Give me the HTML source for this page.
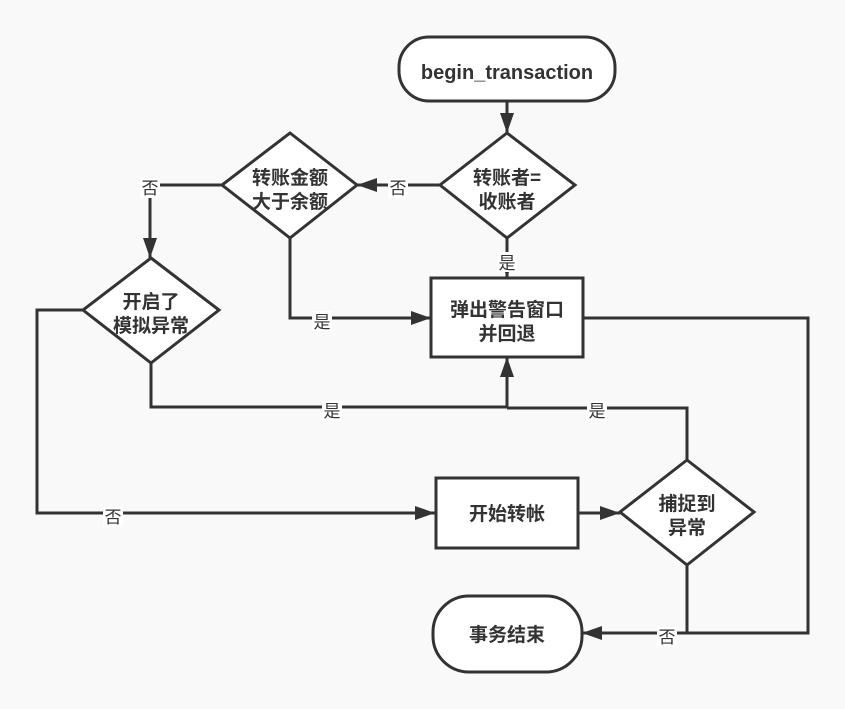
<!DOCTYPE html>
<html><head><meta charset="utf-8"><style>
html,body{margin:0;padding:0;background:#f9f9f9;}
svg{display:block}
text{font-family:"Liberation Sans","Noto Sans CJK SC",sans-serif;font-size:19px;font-weight:bold;fill:#333;text-anchor:middle;}
.l{font-weight:normal;font-size:17px;}
</style></head><body>
<svg width="845" height="709" viewBox="0 0 845 709" xmlns="http://www.w3.org/2000/svg">
<defs>
<marker id="b" markerWidth="22" markerHeight="22" refX="20" refY="11" orient="auto" markerUnits="userSpaceOnUse" viewBox="0 0 22 22"><path d="M0,4 L20,11 L0,18z" fill="#333"/></marker></defs>
<g fill="none" stroke="#333" stroke-width="3">
<path d="M507,101 V133" marker-end="url(#b)"/>
<path d="M440,185 H357" marker-end="url(#b)"/>
<path d="M507,238 V278" marker-end="url(#b)"/>
<path d="M222,185 H150 V258" marker-end="url(#b)"/>
<path d="M290,238 V318 H431" marker-end="url(#b)"/>
<path d="M83,310 H37 V513 H435" marker-end="url(#b)"/>
<path d="M151,363 V407 H507 V357" marker-end="url(#b)"/>
<path d="M687,460 V408 H507"/>
<path d="M578,513 H620" marker-end="url(#b)"/>
<path d="M687,565 V633 H582" marker-end="url(#b)"/>
<path d="M583,318 H808 V633 H600"/>
<rect x="399" y="37" width="216" height="64" rx="30" fill="#fff"/>
<polygon points="507,133 575,185 507,238 440,185" fill="#fff"/>
<polygon points="290,133 357,185 290,238 222,185" fill="#fff"/>
<polygon points="151,258 219,310 151,363 83,310" fill="#fff"/>
<polygon points="687,460 754,512 687,565 620,512" fill="#fff"/>
<rect x="431" y="278" width="152" height="79" fill="#fff"/>
<rect x="436" y="478" width="142" height="70" fill="#fff"/>
<rect x="433" y="596" width="149" height="76" rx="36" fill="#fff"/>
</g>
<text x="507" y="79" style="font-size:20px">begin_transaction</text>
<text x="507" y="184">转账者=</text><text x="507" y="208">收账者</text>
<text x="290" y="184">转账金额</text><text x="290" y="208">大于余额</text>
<text x="151" y="308">开启了</text><text x="151" y="332">模拟异常</text>
<text x="507" y="316">弹出警告窗口</text><text x="507" y="340">并回退</text>
<text x="507" y="520">开始转帐</text>
<text x="687" y="510">捕捉到</text><text x="687" y="534">异常</text>
<text x="507" y="641">事务结束</text>
<g>
<rect x="140" y="178" width="20" height="20" fill="#fff"/><text class="l" x="150" y="194">否</text>
<rect x="388" y="178" width="20" height="20" fill="#fff"/><text class="l" x="398" y="194">否</text>
<rect x="497" y="252" width="20" height="20" fill="#fff"/><text class="l" x="507" y="269">是</text>
<rect x="312" y="311" width="20" height="20" fill="#fff"/><text class="l" x="322" y="328">是</text>
<rect x="322" y="401" width="20" height="20" fill="#fff"/><text class="l" x="332" y="417">是</text>
<rect x="587" y="401" width="20" height="20" fill="#fff"/><text class="l" x="597" y="417">是</text>
<rect x="103" y="507" width="20" height="20" fill="#fff"/><text class="l" x="113" y="523">否</text>
<rect x="657" y="627" width="20" height="20" fill="#fff"/><text class="l" x="667" y="643">否</text>
</g>
</svg>
</body></html>
